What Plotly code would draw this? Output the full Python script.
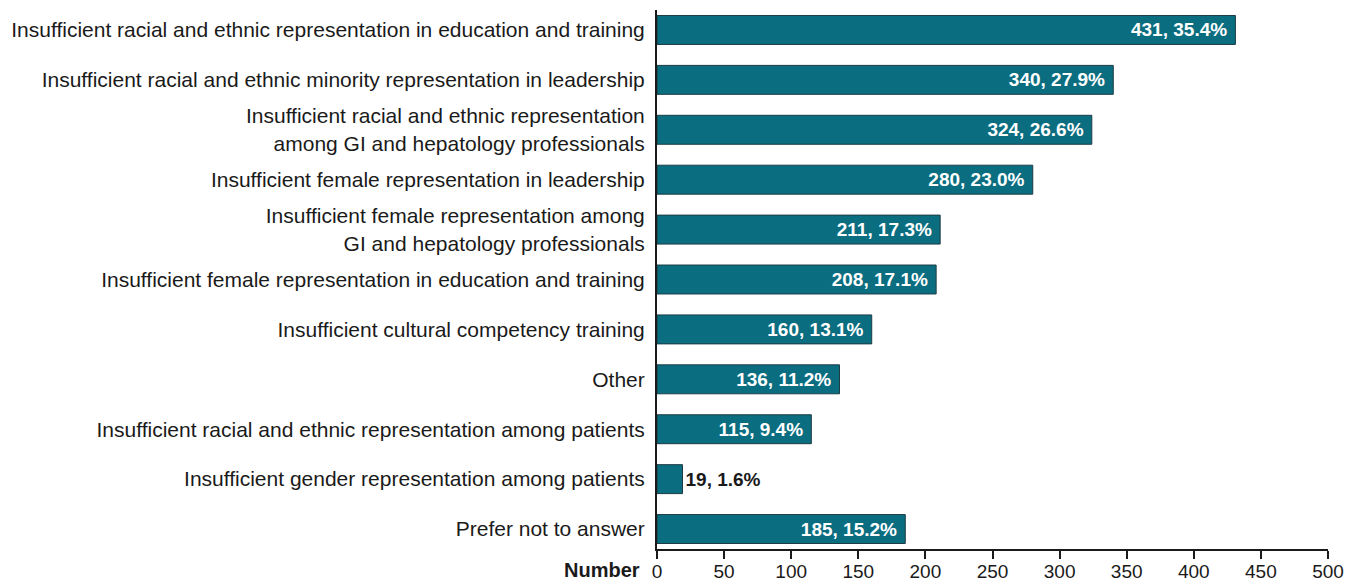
import plotly.graph_objects as go

categories = [
    "Insufficient racial and ethnic representation in education and training",
    "Insufficient racial and ethnic minority representation in leadership",
    "Insufficient racial and ethnic representation<br>among GI and hepatology professionals",
    "Insufficient female representation in leadership",
    "Insufficient female representation among<br>GI and hepatology professionals",
    "Insufficient female representation in education and training",
    "Insufficient cultural competency training",
    "Other",
    "Insufficient racial and ethnic representation among patients",
    "Insufficient gender representation among patients",
    "Prefer not to answer",
]
counts = [431, 340, 324, 280, 211, 208, 160, 136, 115, 19, 185]
percents = [35.4, 27.9, 26.6, 23.0, 17.3, 17.1, 13.1, 11.2, 9.4, 1.6, 15.2]
x_ticks = [0, 50, 100, 150, 200, 250, 300, 350, 400, 450, 500]

labels = [f"{c}, {p:.1f}%\u00a0" for c, p in zip(counts, percents)]
sans = "Liberation Sans, Arial, Helvetica"

fig = go.Figure(go.Bar(
    x=counts,
    y=categories,
    orientation="h",
    width=0.58,
    text=labels,
    textposition="auto",
    insidetextanchor="end",
    insidetextfont=dict(color="white", size=19, family=sans, weight="bold"),
    outsidetextfont=dict(color="#1a1a1a", size=19, family=sans, weight="bold"),
    marker=dict(color="#0a6d80", line=dict(color="#1d3c44", width=1)),
    cliponaxis=False,
))

# page body adds an 8px offset, so the figure is a bit smaller than the window
fig.update_layout(
    width=1352, height=573,
    margin=dict(l=649, r=32, t=2, b=32),
    plot_bgcolor="white", paper_bgcolor="white",
    showlegend=False,
    font=dict(family=sans, color="#1a1a1a"),
)
fig.update_yaxes(
    type="category",
    range=[10.4, -0.4],
    automargin=False,
    showline=True, linecolor="#1a1a1a", linewidth=2,
    ticks="", showgrid=False,
    ticklabelstandoff=6,
    tickfont=dict(size=21, color="#1a1a1a"),
)
fig.update_xaxes(
    range=[0, 500],
    tickvals=x_ticks,
    automargin=False,
    showline=True, linecolor="#1a1a1a", linewidth=2,
    ticks="outside", ticklen=8, tickwidth=1.5, tickcolor="#1a1a1a",
    ticklabelstandoff=-4,
    showgrid=False, zeroline=False,
    tickfont=dict(size=19, color="#1a1a1a"),
)
fig.add_annotation(
    text="<b>Number</b>", xref="paper", yref="paper",
    x=0, y=0, xanchor="right", yanchor="top", yshift=-8, xshift=-15,
    showarrow=False,
    font=dict(size=20, color="#1a1a1a"),
)

fig.write_html("out.html")
